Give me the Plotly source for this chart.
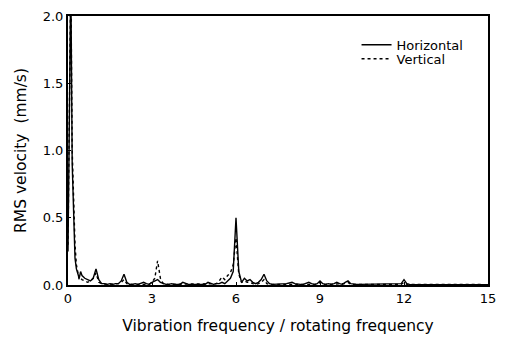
import plotly.graph_objects as go

# Frequency grid (vibration frequency / rotating frequency)
freq_start = [0.0, 0.05, 0.1, 0.15, 0.2, 0.25, 0.3, 0.35, 0.4, 0.45]
freq = freq_start + [round(0.5 + 0.1 * i, 2) for i in range(146)]

# Horizontal RMS velocity (mm/s)
horizontal = [
    0.25, 1.20, 2.30, 0.90, 0.45, 0.20, 0.12, 0.08, 0.05, 0.10,   # 0.0-0.45
    0.07, 0.05, 0.04, 0.03, 0.05, 0.12, 0.04, 0.01, 0.01, 0.005,  # 0.5-1.4
    0.01, 0.005, 0.01, 0.01, 0.03, 0.08, 0.02, 0.005, 0.005, 0.01, # 1.5-2.4
    0.005, 0.01, 0.02, 0.01, 0.005, 0.02, 0.03, 0.04, 0.02, 0.01,  # 2.5-3.4
    0.005, 0.005, 0.01, 0.005, 0.005, 0.005, 0.02, 0.01, 0.005, 0.005, # 3.5-4.4
    0.005, 0.01, 0.005, 0.005, 0.005, 0.02, 0.01, 0.005, 0.01, 0.01,  # 4.5-5.4
    0.02, 0.01, 0.03, 0.05, 0.10, 0.50, 0.10, 0.02, 0.05, 0.03,    # 5.5-6.4
    0.04, 0.02, 0.01, 0.02, 0.04, 0.08, 0.03, 0.01, 0.005, 0.005,  # 6.5-7.4
    0.005, 0.005, 0.005, 0.01, 0.015, 0.02, 0.01, 0.005, 0.005, 0.005, # 7.5-8.4
    0.01, 0.02, 0.01, 0.005, 0.01, 0.03, 0.01, 0.005, 0.01, 0.005,  # 8.5-9.4
    0.01, 0.02, 0.01, 0.005, 0.02, 0.03, 0.01, 0.005, 0.005, 0.005, # 9.5-10.4
    0.005, 0.01, 0.005, 0.005, 0.005, 0.005, 0.01, 0.005, 0.005, 0.005, # 10.5-11.4
    0.005, 0.005, 0.005, 0.005, 0.01, 0.04, 0.01, 0.005, 0.005, 0.005, # 11.5-12.4
    0.005, 0.005, 0.003, 0.005, 0.003, 0.003, 0.005, 0.003, 0.003, 0.003, # 12.5-13.4
    0.003, 0.005, 0.003, 0.003, 0.003, 0.003, 0.005, 0.003, 0.003, 0.003, # 13.5-14.4
    0.003, 0.003, 0.003, 0.003, 0.003, 0.003,                       # 14.5-15.0
]

# Vertical RMS velocity (mm/s)
vertical = [
    0.30, 1.50, 2.30, 1.00, 0.55, 0.30, 0.15, 0.08, 0.04, 0.05,   # 0.0-0.45
    0.04, 0.03, 0.02, 0.03, 0.05, 0.09, 0.02, 0.01, 0.005, 0.005,  # 0.5-1.4
    0.005, 0.005, 0.005, 0.01, 0.02, 0.04, 0.01, 0.005, 0.005, 0.005, # 1.5-2.4
    0.005, 0.005, 0.01, 0.01, 0.005, 0.02, 0.05, 0.18, 0.05, 0.01,  # 2.5-3.4
    0.005, 0.005, 0.005, 0.005, 0.005, 0.005, 0.01, 0.005, 0.005, 0.005, # 3.5-4.4
    0.005, 0.005, 0.005, 0.005, 0.005, 0.01, 0.005, 0.005, 0.01, 0.03,  # 4.5-5.4
    0.06, 0.04, 0.07, 0.09, 0.15, 0.35, 0.08, 0.02, 0.03, 0.02,    # 5.5-6.4
    0.02, 0.01, 0.005, 0.01, 0.02, 0.04, 0.01, 0.005, 0.005, 0.005, # 6.5-7.4
    0.005, 0.005, 0.005, 0.005, 0.01, 0.01, 0.005, 0.005, 0.005, 0.005, # 7.5-8.4
    0.005, 0.01, 0.005, 0.005, 0.005, 0.02, 0.005, 0.005, 0.005, 0.005, # 8.5-9.4
    0.005, 0.01, 0.005, 0.005, 0.01, 0.02, 0.005, 0.005, 0.005, 0.005, # 9.5-10.4
    0.005, 0.005, 0.005, 0.005, 0.005, 0.005, 0.005, 0.005, 0.005, 0.005, # 10.5-11.4
    0.005, 0.005, 0.005, 0.005, 0.005, 0.02, 0.005, 0.005, 0.005, 0.005, # 11.5-12.4
    0.003, 0.003, 0.003, 0.003, 0.003, 0.003, 0.003, 0.003, 0.003, 0.003, # 12.5-13.4
    0.003, 0.003, 0.003, 0.003, 0.003, 0.003, 0.003, 0.003, 0.003, 0.003, # 13.5-14.4
    0.003, 0.003, 0.003, 0.003, 0.003, 0.003,                       # 14.5-15.0
]

x_ticks = [0, 3, 6, 9, 12, 15]
y_ticks = [0.0, 0.5, 1.0, 1.5, 2.0]
y_tick_labels = ["0.0", "0.5", "1.0", "1.5", "2.0"]

font_family = "DejaVu Sans, Verdana, sans-serif"

fig = go.Figure()
fig.add_trace(go.Scatter(
    x=freq, y=horizontal, mode="lines", name="Horizontal",
    line=dict(color="black", width=1.4, dash="solid"),
    legend="legend",
))
fig.add_trace(go.Scatter(
    x=freq, y=vertical, mode="lines", name="Vertical",
    line=dict(color="black", width=1.4, dash="dot"),
    legend="legend2",
))

legend_common = dict(
    xanchor="left", yanchor="middle",
    bgcolor="rgba(0,0,0,0)", borderwidth=0,
    font=dict(size=13, family=font_family, color="black"),
)

fig.update_layout(
    width=505, height=344,
    margin=dict(l=68, r=9, t=14, b=59),
    paper_bgcolor="white", plot_bgcolor="white",
    font=dict(family=font_family, color="black", size=13),
    showlegend=True,
    legend=dict(x=0.687, y=0.893, **legend_common),
    legend2=dict(x=0.687, y=0.841, **legend_common),
    xaxis=dict(
        range=[0, 15], tickvals=x_ticks, ticktext=[str(t) for t in x_ticks],
        showline=True, linecolor="black", linewidth=2, mirror=True,
        ticks="inside", ticklen=3, tickcolor="black",
        showgrid=False, zeroline=False,
        title=dict(text="Vibration frequency / rotating frequency",
                   font=dict(size=15.5), standoff=16),
        tickfont=dict(size=13),
    ),
    yaxis=dict(
        range=[0, 2.0], tickvals=y_ticks, ticktext=y_tick_labels,
        showline=True, linecolor="black", linewidth=2, mirror=True,
        ticks="inside", ticklen=3, tickcolor="black",
        showgrid=False, zeroline=False,
        title=dict(text="RMS velocity \u00a0(mm/s)", font=dict(size=15.5), standoff=12),
        tickfont=dict(size=13),
    ),
)

fig.write_html("out.html")
